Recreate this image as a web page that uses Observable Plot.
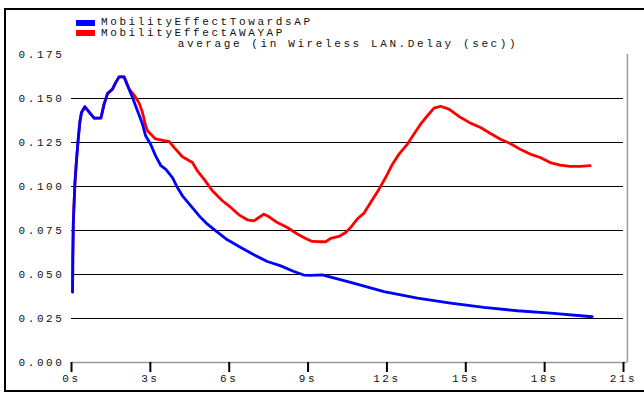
<!DOCTYPE html>
<html>
<head>
<meta charset="utf-8">
<script src="https://cdn.jsdelivr.net/npm/d3@7"></script>
<script src="https://cdn.jsdelivr.net/npm/@observablehq/plot@0.6"></script>
<style>
  html, body { margin: 0; padding: 0; background: #fff; overflow: hidden; }
  #wrap { position: relative; width: 644px; height: 393px; font-family: "Liberation Mono", "DejaVu Sans Mono", monospace; }
  #frame { position: absolute; left: 4px; top: 8px; width: 700px; height: 380px; border: 2px solid #000; border-right: none; box-sizing: content-box; pointer-events: none; }
  #chart { position: absolute; left: 0; top: 0; }
  #chart svg text { letter-spacing: 2.6px; }
  .lg { position: absolute; font-size: 11px; letter-spacing: 2.6px; color: #111; white-space: nowrap; line-height: 11px; }
  .sw { position: absolute; width: 19px; height: 6px; }
</style>
</head>
<body>
<div id="wrap">
  <div id="chart"></div>
  <div id="frame"></div>
  <div class="sw" style="left:76px;top:20px;background:#0000ff"></div>
  <div class="lg" id="lg1" style="left:101px;top:17px"></div>
  <div class="sw" style="left:76px;top:30px;background:#ff0000"></div>
  <div class="lg" id="lg2" style="left:101px;top:28px"></div>
  <div class="lg" id="title" style="left:0;width:696px;text-align:center;top:39px"></div>
</div>
<script>
// ---- data ----
const seriesNames = ["MobilityEffectTowardsAP", "MobilityEffectAWAYAP"];
const seriesColors = ["#0000ff", "#ff0000"];
const chartTitle = "average (in Wireless LAN.Delay (sec))";

const towardsTime = [0.04, 0.05, 0.07, 0.13, 0.19, 0.25, 0.32, 0.38, 0.51, 0.86, 1.12, 1.24, 1.37, 1.56, 1.68, 1.81, 2.0, 2.19, 2.32, 2.51, 2.7, 2.82, 3.01, 3.2, 3.4, 3.59, 3.84, 4.03, 4.22, 4.54, 4.85, 5.17, 5.49, 5.93, 6.44, 6.94, 7.45, 7.96, 8.46, 8.84, 9.1, 9.54, 10.62, 11.89, 13.16, 14.42, 15.69, 16.96, 18.23, 19.81];
const towardsDelay = [0.040, 0.060, 0.080, 0.102, 0.115, 0.126, 0.137, 0.142, 0.1453, 0.1389, 0.1389, 0.1468, 0.1528, 0.1553, 0.159, 0.1623, 0.1623, 0.1553, 0.1506, 0.143, 0.1355, 0.1288, 0.124, 0.1174, 0.1118, 0.1097, 0.1051, 0.0994, 0.0947, 0.089, 0.0834, 0.0786, 0.0748, 0.0697, 0.0653, 0.0612, 0.0574, 0.0549, 0.0517, 0.0497, 0.0495, 0.0498, 0.0455, 0.0403, 0.0366, 0.0338, 0.0313, 0.0294, 0.0281, 0.026];

const awayTime = [0.04, 0.05, 0.07, 0.13, 0.19, 0.25, 0.32, 0.38, 0.51, 0.86, 1.12, 1.24, 1.37, 1.56, 1.68, 1.81, 2.0, 2.19, 2.4, 2.57, 2.7, 2.82, 2.89, 3.01, 3.2, 3.52, 3.71, 3.9, 4.22, 4.6, 4.79, 5.04, 5.36, 5.74, 6.06, 6.37, 6.69, 6.94, 7.13, 7.32, 7.51, 7.83, 8.21, 8.59, 8.91, 9.16, 9.48, 9.67, 9.86, 10.17, 10.43, 10.62, 10.87, 11.13, 11.38, 11.7, 11.95, 12.21, 12.46, 12.78, 13.03, 13.28, 13.54, 13.79, 14.04, 14.36, 14.74, 15.18, 15.56, 15.94, 16.32, 16.69, 17.07, 17.45, 17.83, 18.21, 18.59, 18.97, 19.35, 19.73];
const awayDelay = [0.040, 0.060, 0.080, 0.102, 0.115, 0.126, 0.137, 0.142, 0.1453, 0.1389, 0.1389, 0.1468, 0.1528, 0.1553, 0.159, 0.1623, 0.1623, 0.1555, 0.1515, 0.1475, 0.142, 0.1345, 0.1317, 0.1298, 0.127, 0.126, 0.1256, 0.1222, 0.1169, 0.1136, 0.1089, 0.1042, 0.0976, 0.0919, 0.0881, 0.0839, 0.0811, 0.0805, 0.0824, 0.0843, 0.0828, 0.0795, 0.0767, 0.073, 0.0705, 0.0688, 0.0686, 0.0686, 0.0705, 0.0716, 0.0739, 0.0767, 0.0815, 0.0849, 0.0909, 0.0985, 0.1051, 0.1127, 0.1184, 0.1241, 0.1298, 0.1354, 0.1402, 0.1445, 0.1456, 0.144, 0.1398, 0.136, 0.1335, 0.1301, 0.1269, 0.1244, 0.1212, 0.1184, 0.1165, 0.1136, 0.1121, 0.1114, 0.1114, 0.1119];

const xTicks = [0, 3, 6, 9, 12, 15, 18, 21];
const yTicks = [0, 0.025, 0.05, 0.075, 0.1, 0.125, 0.15, 0.175];
const xMax = 21;
const yMax = 0.175;
const axisEnd = 21.15;

// ---- build ----
const towards = towardsTime.map((t, i) => ({t, v: towardsDelay[i]}));
const away = awayTime.map((t, i) => ({t, v: awayDelay[i]}));

document.getElementById("lg1").textContent = seriesNames[0];
document.getElementById("lg2").textContent = seriesNames[1];
document.getElementById("title").textContent = chartTitle;

const chart = Plot.plot({
  width: 644,
  height: 393,
  marginLeft: 71,
  marginRight: 21,
  marginTop: 54,
  marginBottom: 31,
  style: {fontFamily: "'Liberation Mono', 'DejaVu Sans Mono', monospace", fontSize: "11px", background: "transparent", color: "#111", overflow: "visible"},
  x: {domain: [0, xMax]},
  y: {domain: [0, yMax]},
  marks: [
    Plot.gridY(yTicks.filter(d => d > 0 && d < yMax), {stroke: "#000", strokeOpacity: 1, strokeWidth: 1.2}),
    Plot.ruleY([0], {x1: 0, x2: axisEnd, stroke: "#9a9a9a", strokeWidth: 1.5}),
    Plot.ruleX([axisEnd], {y1: 0, y2: yMax, stroke: "#9a9a9a", strokeWidth: 1.5}),
    Plot.axisY({ticks: yTicks, tickSize: 0, tickPadding: 7, tickFormat: d3.format(".3f"), label: null, fill: "#111"}),
    Plot.axisX({ticks: xTicks, tickSize: 10, tickPadding: 2, tickFormat: d => d + "s", label: null, stroke: "#000", strokeWidth: 2, fill: "#111"}),
    Plot.line(away, {x: "t", y: "v", stroke: seriesColors[1], strokeWidth: 2.8}),
    Plot.line(towards, {x: "t", y: "v", stroke: seriesColors[0], strokeWidth: 2.8})
  ]
});
document.getElementById("chart").appendChild(chart);
</script>
</body>
</html>
